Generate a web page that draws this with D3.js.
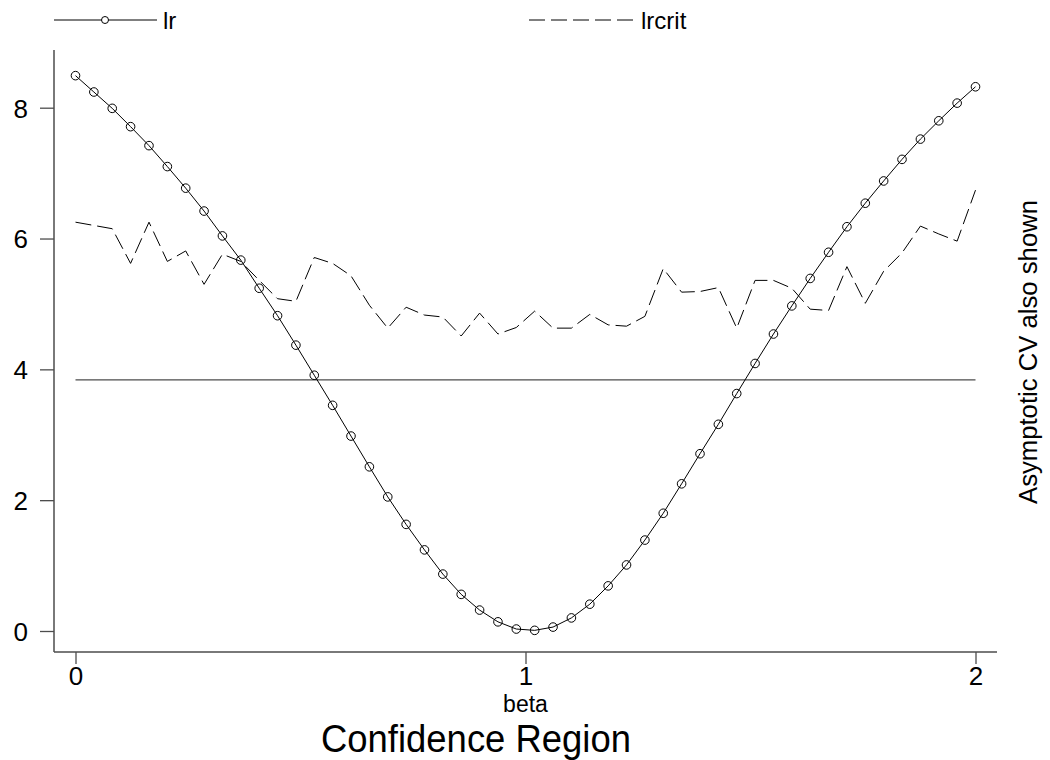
<!DOCTYPE html>
<html>
<head>
<meta charset="utf-8">
<script src="https://cdn.jsdelivr.net/npm/d3@7"></script>
<style>
  body { margin: 0; background: #fff; }
  svg text { font-family: "Liberation Sans", Arial, Helvetica, sans-serif; fill: #000; }
</style>
</head>
<body>
<div id="chart"></div>
<script>
// beta grid (50 points from 0 to 2)
const beta = [0, 0.0408, 0.0816, 0.1224, 0.1633, 0.2041, 0.2449, 0.2857, 0.3265, 0.3673,
  0.4082, 0.449, 0.4898, 0.5306, 0.5714, 0.6122, 0.6531, 0.6939, 0.7347, 0.7755,
  0.8163, 0.8571, 0.898, 0.9388, 0.9796, 1.0204, 1.0612, 1.102, 1.1429, 1.1837,
  1.2245, 1.2653, 1.3061, 1.3469, 1.3878, 1.4286, 1.4694, 1.5102, 1.551, 1.5918,
  1.6327, 1.6735, 1.7143, 1.7551, 1.7959, 1.8367, 1.8776, 1.9184, 1.9592, 2];

const lr = [8.49, 8.24, 7.99, 7.71, 7.42, 7.10, 6.77, 6.42, 6.04, 5.67,
  5.24, 4.82, 4.37, 3.91, 3.45, 2.98, 2.51, 2.05, 1.63, 1.24,
  0.87, 0.56, 0.32, 0.14, 0.03, 0.01, 0.06, 0.20, 0.41, 0.69,
  1.01, 1.39, 1.80, 2.25, 2.71, 3.16, 3.63, 4.09, 4.54, 4.97,
  5.39, 5.79, 6.18, 6.54, 6.88, 7.21, 7.52, 7.80, 8.07, 8.32];

const lrcrit = [6.25, 6.20, 6.15, 5.62, 6.25, 5.65, 5.81, 5.30, 5.76, 5.65,
  5.36, 5.08, 5.04, 5.71, 5.62, 5.43, 4.98, 4.63, 4.95, 4.83,
  4.80, 4.51, 4.86, 4.54, 4.64, 4.89, 4.63, 4.63, 4.84, 4.68,
  4.66, 4.81, 5.54, 5.18, 5.19, 5.25, 4.63, 5.36, 5.36, 5.24,
  4.92, 4.90, 5.57, 5.01, 5.50, 5.78, 6.19, 6.07, 5.96, 6.74];

// asymptotic critical value (chi2(1), 95%)
const asymCV = 3.84;

const xTicks = [0, 1, 2];
const yTicks = [0, 2, 4, 6, 8];

const w = 1050, h = 760;
// plot region edges (axis lines)
const plotLeft = 54, plotRight = 997, plotTop = 50, plotBottom = 652;

const svg = d3.select('#chart').append('svg')
  .attr('width', w)
  .attr('height', h);

const xScale = d3.scaleLinear().domain([0, 2]).range([75.5, 975.5]);
const yScale = d3.scaleLinear().domain([0, 8]).range([631, 107.7]);

const axisColor = '#4d4d4d';

// y axis
const yAxis = d3.axisLeft(yScale).tickValues(yTicks).tickSize(14).tickPadding(12);
const gy = svg.append('g')
  .attr('transform', 'translate(' + plotLeft + ',0)')
  .call(yAxis);
gy.select('.domain').remove();
gy.selectAll('.tick line').attr('stroke', axisColor).attr('stroke-width', 1.3);
gy.selectAll('.tick text').attr('font-size', 26).attr('dy', '0.36em');
svg.append('line')
  .attr('x1', plotLeft).attr('x2', plotLeft)
  .attr('y1', plotTop).attr('y2', plotBottom)
  .attr('stroke', axisColor).attr('stroke-width', 1.5);

// x axis
const xAxis = d3.axisBottom(xScale).tickValues(xTicks).tickFormat(d3.format('d')).tickSize(12).tickPadding(3);
const gx = svg.append('g')
  .attr('transform', 'translate(0,' + plotBottom + ')')
  .call(xAxis);
gx.select('.domain').remove();
gx.selectAll('.tick line').attr('stroke', axisColor).attr('stroke-width', 1.3);
gx.selectAll('.tick text').attr('font-size', 26);
svg.append('line')
  .attr('x1', plotLeft).attr('x2', plotRight)
  .attr('y1', plotBottom).attr('y2', plotBottom)
  .attr('stroke', axisColor).attr('stroke-width', 1.5);

// asymptotic CV line
svg.append('line')
  .attr('x1', xScale(0)).attr('x2', xScale(2))
  .attr('y1', yScale(asymCV)).attr('y2', yScale(asymCV))
  .attr('stroke', axisColor).attr('stroke-width', 1.3);

const line = d3.line()
  .x((d, i) => xScale(beta[i]))
  .y(d => yScale(d));

// lrcrit dashed
svg.append('path')
  .datum(lrcrit)
  .attr('d', line)
  .attr('fill', 'none')
  .attr('stroke', '#000')
  .attr('stroke-width', 1)
  .attr('stroke-dasharray', '16,6');

// lr solid with circles
svg.append('path')
  .datum(lr)
  .attr('d', line)
  .attr('fill', 'none')
  .attr('stroke', '#000')
  .attr('stroke-width', 1);

svg.selectAll('circle.lr')
  .data(lr)
  .enter()
  .append('circle')
  .attr('class', 'lr')
  .attr('cx', (d, i) => xScale(beta[i]))
  .attr('cy', d => yScale(d))
  .attr('r', 4.3)
  .attr('fill', 'none')
  .attr('stroke', '#000')
  .attr('stroke-width', 1);

// axis titles
svg.append('text')
  .attr('x', xScale(1))
  .attr('y', 712)
  .attr('text-anchor', 'middle')
  .attr('font-size', 23)
  .text('beta');

svg.append('text')
  .attr('x', 476)
  .attr('y', 752)
  .attr('text-anchor', 'middle')
  .attr('font-size', 39)
  .attr('textLength', 310)
  .attr('lengthAdjust', 'spacingAndGlyphs')
  .text('Confidence Region');

svg.append('text')
  .attr('transform', 'translate(1037,352) rotate(-90)')
  .attr('text-anchor', 'middle')
  .attr('font-size', 25)
  .attr('textLength', 304)
  .attr('lengthAdjust', 'spacingAndGlyphs')
  .text('Asymptotic CV also shown');

// legend
const legY = 20;
const leg = svg.append('g');
leg.append('line')
  .attr('x1', 54).attr('x2', 157)
  .attr('y1', legY).attr('y2', legY)
  .attr('stroke', '#000').attr('stroke-width', 1);
leg.append('circle')
  .attr('cx', 105).attr('cy', legY).attr('r', 3.5)
  .attr('fill', '#fff').attr('stroke', '#000').attr('stroke-width', 1);
leg.append('text')
  .attr('x', 163).attr('y', legY + 9)
  .attr('font-size', 24)
  .text('lr');
leg.append('line')
  .attr('x1', 529).attr('x2', 638)
  .attr('y1', legY).attr('y2', legY)
  .attr('stroke', '#000').attr('stroke-width', 1)
  .attr('stroke-dasharray', '16,6');
leg.append('text')
  .attr('x', 641).attr('y', legY + 9)
  .attr('font-size', 24)
  .text('lrcrit');
</script>
</body>
</html>
